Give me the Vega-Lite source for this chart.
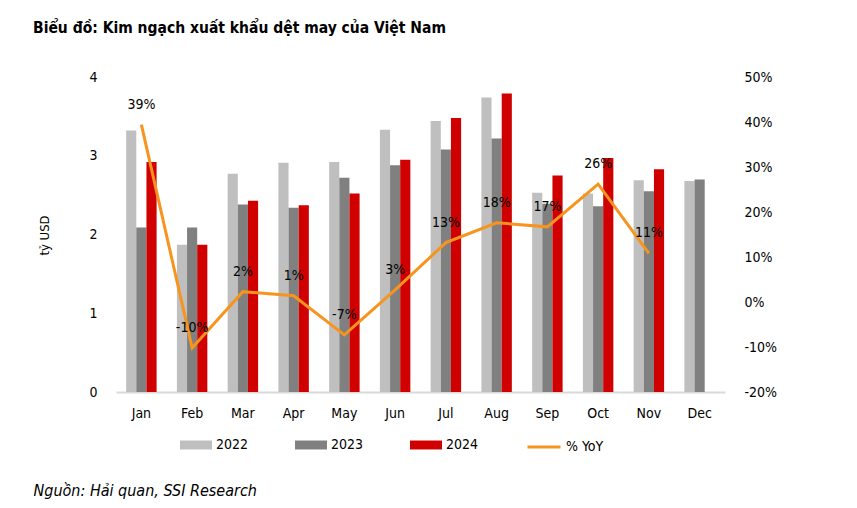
{
  "$schema": "https://vega.github.io/schema/vega-lite/v6.json",
  "autosize": {"type": "none"},
  "width": 609,
  "height": 315,
  "padding": {"left": 116, "top": 77, "right": 132, "bottom": 116},
  "background": "white",
  "config": {
    "view": {"stroke": null},
    "font": "Liberation Sans Narrow, DejaVu Sans Condensed, sans-serif",
    "axis": {"labelFont": "Liberation Sans Narrow, DejaVu Sans Condensed, sans-serif", "labelFontSize": 14, "labelColor": "#000", "grid": false, "ticks": false},
    "legend": {"labelFont": "Liberation Sans Narrow, DejaVu Sans Condensed, sans-serif", "labelFontSize": 14, "labelColor": "#000"}
  },
  "title": {
    "text": "Biểu đồ: Kim ngạch xuất khẩu dệt may của Việt Nam",
    "anchor": "start",
    "frame": "group",
    "dx": -83,
    "offset": 34,
    "font": "Liberation Sans Narrow, DejaVu Sans Condensed, sans-serif",
    "fontSize": 15.5,
    "fontWeight": "bold",
    "color": "#000"
  },
  "datasets": {
    "bars": [
      {"month": "Jan", "year": "2022", "value": 3.32}, {"month": "Jan", "year": "2023", "value": 2.09}, {"month": "Jan", "year": "2024", "value": 2.92},
      {"month": "Feb", "year": "2022", "value": 1.87}, {"month": "Feb", "year": "2023", "value": 2.09}, {"month": "Feb", "year": "2024", "value": 1.87},
      {"month": "Mar", "year": "2022", "value": 2.77}, {"month": "Mar", "year": "2023", "value": 2.38}, {"month": "Mar", "year": "2024", "value": 2.43},
      {"month": "Apr", "year": "2022", "value": 2.91}, {"month": "Apr", "year": "2023", "value": 2.34}, {"month": "Apr", "year": "2024", "value": 2.37},
      {"month": "May", "year": "2022", "value": 2.92}, {"month": "May", "year": "2023", "value": 2.72}, {"month": "May", "year": "2024", "value": 2.52},
      {"month": "Jun", "year": "2022", "value": 3.33}, {"month": "Jun", "year": "2023", "value": 2.88}, {"month": "Jun", "year": "2024", "value": 2.95},
      {"month": "Jul", "year": "2022", "value": 3.44}, {"month": "Jul", "year": "2023", "value": 3.08}, {"month": "Jul", "year": "2024", "value": 3.48},
      {"month": "Aug", "year": "2022", "value": 3.74}, {"month": "Aug", "year": "2023", "value": 3.22}, {"month": "Aug", "year": "2024", "value": 3.79},
      {"month": "Sep", "year": "2022", "value": 2.53}, {"month": "Sep", "year": "2023", "value": 2.39}, {"month": "Sep", "year": "2024", "value": 2.75},
      {"month": "Oct", "year": "2022", "value": 2.52}, {"month": "Oct", "year": "2023", "value": 2.36}, {"month": "Oct", "year": "2024", "value": 2.97},
      {"month": "Nov", "year": "2022", "value": 2.69}, {"month": "Nov", "year": "2023", "value": 2.55}, {"month": "Nov", "year": "2024", "value": 2.83},
      {"month": "Dec", "year": "2022", "value": 2.68}, {"month": "Dec", "year": "2023", "value": 2.70}
    ],
    "yoy": [
      {"month": "Jan", "yoy": 39.4, "label": "39%"},
      {"month": "Feb", "yoy": -10.2, "label": "-10%"},
      {"month": "Mar", "yoy": 2.3, "label": "2%"},
      {"month": "Apr", "yoy": 1.4, "label": "1%"},
      {"month": "May", "yoy": -7.3, "label": "-7%"},
      {"month": "Jun", "yoy": 2.7, "label": "3%"},
      {"month": "Jul", "yoy": 13.2, "label": "13%"},
      {"month": "Aug", "yoy": 17.6, "label": "18%"},
      {"month": "Sep", "yoy": 16.7, "label": "17%"},
      {"month": "Oct", "yoy": 26.2, "label": "26%"},
      {"month": "Nov", "yoy": 10.8, "label": "11%"}
    ]
  },
  "encoding": {
    "x": {
      "field": "month",
      "type": "nominal",
      "sort": ["Jan", "Feb", "Mar", "Apr", "May", "Jun", "Jul", "Aug", "Sep", "Oct", "Nov", "Dec"],
      "scale": {"domain": ["Jan", "Feb", "Mar", "Apr", "May", "Jun", "Jul", "Aug", "Sep", "Oct", "Nov", "Dec"], "paddingInner": 0.4, "paddingOuter": 0.2},
      "axis": {
        "labelAngle": 0,
        "labelPadding": 14,
        "domainColor": "#d9d9d9",
        "domainWidth": 2,
        "title": "Nguồn: Hải quan, SSI Research",
        "titleX": -83,
        "titleY": 98,
        "titleAlign": "left",
        "titleBaseline": "middle",
        "titleFont": "Liberation Sans Narrow, DejaVu Sans Condensed, sans-serif",
        "titleFontSize": 16,
        "titleFontStyle": "italic",
        "titleFontWeight": "normal",
        "titleColor": "#000"
      }
    }
  },
  "layer": [
    {
      "data": {"name": "bars"},
      "mark": {"type": "bar"},
      "encoding": {
        "xOffset": {"field": "year", "type": "nominal", "scale": {"domain": ["2022", "2023", "2024"], "paddingInner": 0}},
        "y": {
          "field": "value",
          "type": "quantitative",
          "scale": {"domain": [0, 4]},
          "axis": {
            "values": [0, 1, 2, 3, 4],
            "domain": false,
            "labelPadding": 19,
            "title": "tỷ USD",
            "titleX": -72,
            "titleY": 158,
            "titleAngle": -90,
            "titleAlign": "center",
            "titleBaseline": "middle",
            "titleFont": "Liberation Sans Narrow, DejaVu Sans Condensed, sans-serif",
            "titleFontSize": 13,
            "titleFontWeight": "normal",
            "titleColor": "#000"
          }
        },
        "color": {
          "field": "year",
          "type": "nominal",
          "scale": {"domain": ["2022", "2023", "2024"], "range": ["#bfbfbf", "#808080", "#d00000"]},
          "legend": {
            "title": null,
            "orient": "none",
            "direction": "horizontal",
            "legendX": 64,
            "legendY": 352,
            "symbolType": "M-1,-0.28L1,-0.28L1,0.28L-1,0.28Z",
            "symbolSize": 1024,
            "symbolStrokeWidth": 0,
            "labelOffset": 4,
            "columnPadding": 46
          }
        }
      }
    },
    {
      "data": {"name": "yoy"},
      "mark": {"type": "line", "strokeWidth": 3},
      "encoding": {
        "y": {
          "field": "yoy",
          "type": "quantitative",
          "scale": {"domain": [-20, 50]},
          "axis": {
            "orient": "right",
            "values": [-20, -10, 0, 10, 20, 30, 40, 50],
            "labelExpr": "datum.value + '%'",
            "domain": false,
            "labelPadding": 19,
            "title": null
          }
        },
        "stroke": {
          "datum": "% YoY",
          "type": "nominal",
          "scale": {"domain": ["% YoY"], "range": ["#f7941d"]},
          "legend": {
            "title": null,
            "orient": "none",
            "legendX": 410,
            "legendY": 352,
            "symbolType": "stroke",
            "symbolSize": 1089,
            "symbolStrokeWidth": 3,
            "labelOffset": 4
          }
        }
      }
    },
    {
      "data": {"name": "yoy"},
      "mark": {"type": "text", "dy": -20, "fontSize": 14, "color": "#000"},
      "encoding": {
        "y": {"field": "yoy", "type": "quantitative", "scale": {"domain": [-20, 50]}, "axis": null},
        "text": {"field": "label"}
      }
    }
  ],
  "resolve": {"scale": {"y": "independent"}}
}
